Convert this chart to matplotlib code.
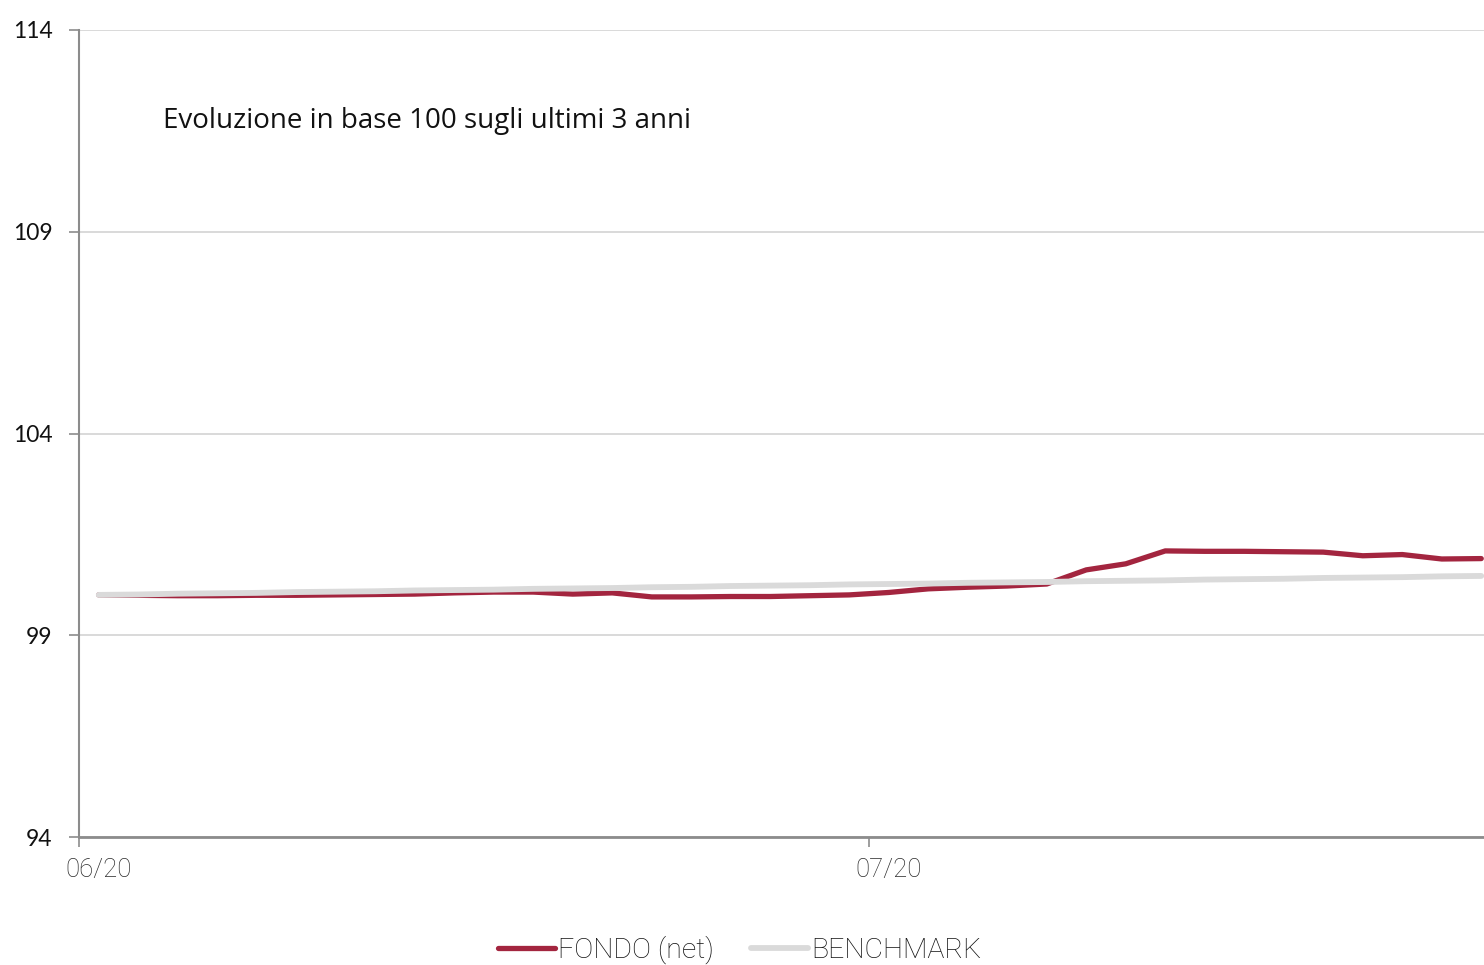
"""Evoluzione in base 100: fondo vs benchmark."""

import matplotlib
matplotlib.use("Agg")
import matplotlib.pyplot as plt

# Daily values (base 100)
fondo = [100.00, 99.99, 99.98, 99.98, 99.99, 99.99, 100.00, 100.01, 100.02,
         100.05, 100.07, 100.07, 100.02, 100.05, 99.95, 99.95, 99.96, 99.96,
         99.98, 100.00, 100.06, 100.15, 100.19, 100.22, 100.27, 100.62,
         100.77, 101.09, 101.08, 101.08, 101.07, 101.06, 100.97, 101.00,
         100.89, 100.90]
benchmark = [100.00, 100.01, 100.03, 100.04, 100.05, 100.07, 100.08, 100.09,
             100.11, 100.12, 100.13, 100.15, 100.16, 100.17, 100.19, 100.20,
             100.22, 100.23, 100.24, 100.26, 100.27, 100.28, 100.30, 100.31,
             100.32, 100.34, 100.35, 100.36, 100.38, 100.39, 100.40, 100.42,
             100.43, 100.44, 100.46, 100.47]
month_labels = ["06/20", "07/20"]
month_index = [0, 20]  # position of the first day of each month
y_ticks = [94, 99, 104, 109, 114]

title = "Evoluzione in base 100 sugli ultimi 3 anni"

RED = "#a3253f"
GREY_LINE = "#dadada"
AXIS = "#8c8c8c"

fig = plt.figure(figsize=(14.84, 9.65), dpi=100)
ax = fig.add_axes([79 / 1484, 128 / 965, 1 - 79 / 1484, 807 / 965])

x = list(range(len(fondo)))
ax.plot(x, fondo, color=RED, lw=3.8, solid_capstyle="round",
        solid_joinstyle="round", label="FONDO (net)", zorder=3)
ax.plot(x, benchmark, color=GREY_LINE, lw=4.2, solid_capstyle="round",
        label="BENCHMARK", zorder=4)

ax.set_xlim(-0.5, -0.5 + 1405 / 39.5)
ax.set_ylim(94, 114)

# y axis
ax.set_yticks(y_ticks)
ax.set_yticklabels([str(v) for v in y_ticks], fontsize=16.5,
                   family=["Lato", "DejaVu Sans"], color="#111111")
ax.grid(axis="y", color="#d9d9d9", lw=1.4, zorder=0)
ax.tick_params(axis="y", length=7, width=1.2, color=AXIS, pad=12)

# x axis: tick marks between categories, labels on the first day
ax.set_xticks([i - 0.5 for i in month_index])
ax.set_xticklabels([])
ax.tick_params(axis="x", which="major", length=7, width=1.2, color=AXIS)
ax.set_xticks(month_index, minor=True)
ax.set_xticklabels(month_labels, minor=True, fontsize=18.5,
                   family=["Roboto", "DejaVu Sans"], fontweight="light",
                   color="#2a2a2a")
ax.tick_params(axis="x", which="minor", length=0, pad=15)

for side in ("top", "right"):
    ax.spines[side].set_visible(False)
ax.spines["left"].set_color(AXIS)
ax.spines["left"].set_linewidth(1.5)
ax.spines["bottom"].set_color(AXIS)
ax.spines["bottom"].set_linewidth(2)

fig.text(163 / 1484, 1 - 121 / 965, title, fontsize=20,
         family=["Open Sans", "DejaVu Sans"], va="center", ha="left",
         color="#111111")

leg = fig.legend(loc="center", bbox_to_anchor=(740 / 1484, 1 - 950 / 965),
                 ncol=2, frameon=False, handlelength=2.0, handletextpad=0.12,
                 columnspacing=1.3,
                 prop={"family": ["Roboto", "DejaVu Sans"], "size": 20.5,
                       "weight": "light"})
for t in leg.get_texts():
    t.set_color("#111111")

fig.savefig("out.png", dpi=100, facecolor="white")
